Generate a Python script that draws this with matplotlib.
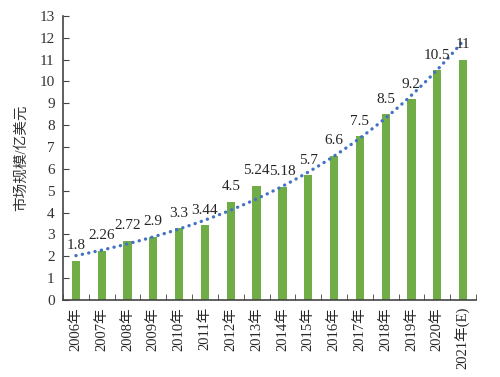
import numpy as np
import matplotlib
matplotlib.use("Agg")
import matplotlib.pyplot as plt

years = ["2006年", "2007年", "2008年", "2009年", "2010年", "2011年", "2012年", "2013年",
         "2014年", "2015年", "2016年", "2017年", "2018年", "2019年", "2020年", "2021年(E)"]
values = [1.8, 2.26, 2.72, 2.9, 3.3, 3.44, 4.5, 5.24, 5.18, 5.7, 6.6, 7.5, 8.5, 9.2, 10.5, 11]
value_labels = ["1.8", "2.26", "2.72", "2.9", "3.3", "3.44", "4.5", "5.24",
                "5.18", "5.7", "6.6", "7.5", "8.5", "9.2", "10.5", "11"]

fonts = ["Liberation Serif", "Noto Sans CJK SC", "DejaVu Sans"]
plt.rcParams["font.family"] = fonts

fig = plt.figure(figsize=(5, 3.77), dpi=100)
ax = fig.add_axes([0.126, 0.204, 0.826, 0.754])

x = np.arange(len(years))
ax.bar(x, values, width=0.32, color="#70AD47", zorder=2)

# exponential trendline, fitted on log of the values
b, a = np.polyfit(x, np.log(values), 1)
xs = np.linspace(0, len(years) - 1, 200)
ax.plot(xs, np.exp(a + b * xs), linestyle=(0, (0.05, 1.9)), color="#4472C4",
        linewidth=2.4, dash_capstyle="round", zorder=3)

for xi, v, lab in zip(x, values, value_labels):
    ax.annotate(lab, (xi, v), xytext=(0, 6), textcoords="offset points",
                ha="center", va="bottom", fontsize=11, color="#262626", zorder=4)

ax.set_xlim(-0.5, len(years) - 0.5)
ax.set_ylim(0, 13)
ax.set_yticks(range(0, 14))
ax.set_xticks(x)
ax.set_xticklabels(years, rotation=90, fontsize=10.5, color="#262626")
ax.set_xticks(np.arange(-0.5, len(years), 1), minor=True)
ax.tick_params(axis="x", which="major", length=0, pad=5)
ax.tick_params(axis="x", which="minor", direction="in", length=4, color="#444444")
ax.tick_params(axis="y", direction="in", length=4, color="#444444", labelsize=11,
               labelcolor="#333333", pad=6)

for s in ["top", "right"]:
    ax.spines[s].set_visible(False)
for s in ["left", "bottom"]:
    ax.spines[s].set_color("#444444")
    ax.spines[s].set_linewidth(1.2)

ax.set_ylabel("市场规模/亿美元", fontsize=10.5, color="#333333", labelpad=8)

fig.savefig("out.png", dpi=100)
